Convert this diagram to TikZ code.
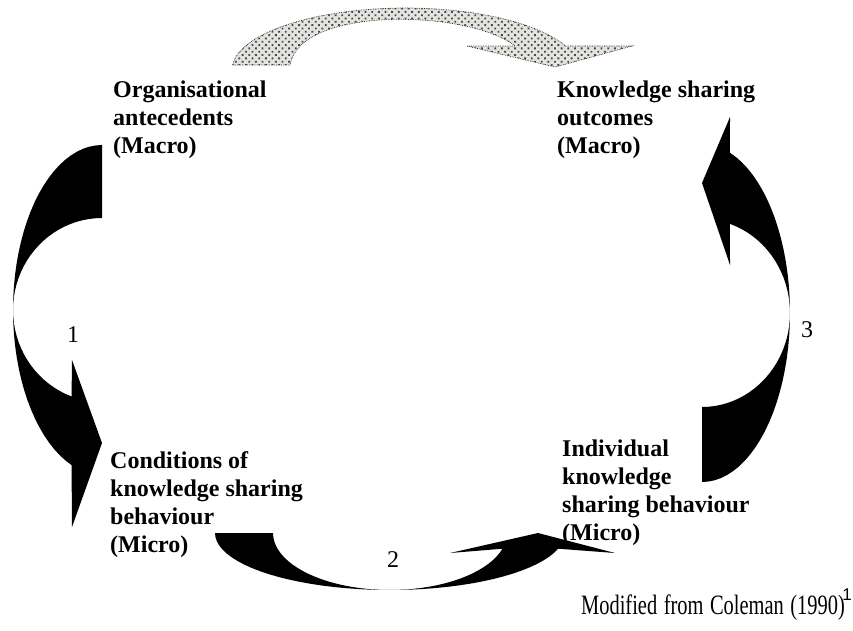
\documentclass[tikz,border=0pt]{standalone}
\usepackage{fontspec}
\setmainfont{Liberation Serif}
\setsansfont{Liberation Sans}
\usetikzlibrary{patterns.meta}
\definecolor{dotBeige}{HTML}{E6E4DA}
\definecolor{dotSlate}{HTML}{3C4B62}

\begin{document}
\begin{tikzpicture}[x=1pt,y=-1pt,
  main node/.style={anchor=base west,align=left,inner sep=0pt,font=\fontsize{24}{28}\selectfont\bfseries},
  num node/.style={inner sep=0pt,font=\fontsize{24}{28}\selectfont},
  block arrow/.style={fill=black},
  dotted arrow/.style={draw=black!85,densely dotted,line width=0.7pt,preaction={fill=dotBeige},
    pattern={Dots[distance=4.7pt,angle=45,radius=1.3pt]},pattern color=dotSlate}]
            \useasboundingbox (0,0) rectangle (853,630);

            \path[dotted arrow] plot[domain=184.6:337.2,samples=40] ({405.5+173.5*cos(\x)},{70+62*sin(\x)})
                -- (632,46) -- (555,67) -- (467,46) -- (515,46) .. controls (470,10) and (300,5) .. (290,65) -- cycle;
            \fill[block arrow] plot[domain=270:110,samples=40] ({102+89*cos(\x)},{310+165*sin(\x)})
                -- (72,527) -- (102,443) -- (72,360)
                -- plot[domain=110:270,samples=40] ({102+89*cos(\x)},{310+92*sin(\x)}) -- cycle;
            \fill[block arrow] plot[domain=180:16,samples=40] ({390+175*cos(\x)},{533+57*sin(\x)})
                -- (615,553) -- (538,533) -- (450,553)
                -- plot[domain=16:180,samples=40] ({390+117*cos(\x)},{533+57*sin(\x)}) -- cycle;
            \fill[block arrow] plot[domain=90:-71.5,samples=40] ({702+88*cos(\x)},{313+169*sin(\x)})
                -- (730,117) -- (702,183) -- (730,265)
                -- plot[domain=-71.5:90,samples=40] ({702+88*cos(\x)},{313+94*sin(\x)}) -- cycle;

            \node[main node] (orgAnte) at (113,153) {Organisational\\antecedents\\(Macro)};
            \node[main node] (ksOutcome) at (557,153) {Knowledge sharing\\outcomes\\(Macro)};
            \node[main node] (ksCond) at (110,552) {Conditions of\\knowledge sharing\\behaviour\\(Micro)};
            \node[main node] (ksBehav) at (562,540) {Individual\\knowledge\\sharing behaviour\\(Micro)};

            \node[num node] (n1) at (73,335) {1};
            \node[num node] (n2) at (393,560) {2};
            \node[num node] (n3) at (807,330) {3};

            \node[anchor=base west,inner sep=0pt,xscale=0.73,font={\fontsize{28}{30}\selectfont\spaceskip=0.32em\relax}] (src) at (581,614) {Modified from Coleman (1990)};
            \node[inner sep=0pt,font=\sffamily\fontsize{17}{17}\selectfont] (srcNote) at (847,595) {1};
        \end{tikzpicture}
\end{document}
